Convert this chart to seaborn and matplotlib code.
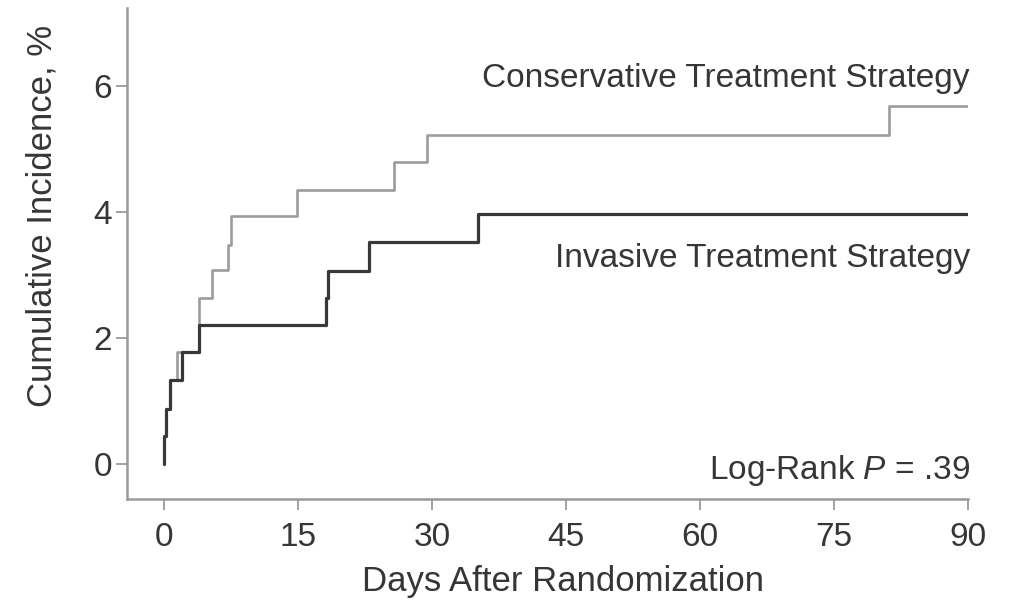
import seaborn as sns
import matplotlib.pyplot as plt
import pandas as pd

# step data
days_conservative = [0, 0, 0.19, 0.67, 1.42, 3.92, 5.4, 7.2, 7.47, 14.9, 25.7, 29.4, 81.2, 90]
incidence_conservative = [0, 0.44, 0.87, 1.33, 1.77, 2.62, 3.07, 3.47, 3.93, 4.34, 4.79, 5.21, 5.67, 5.67]

days_invasive = [0, 0, 0.19, 0.67, 2.05, 3.92, 18.1, 18.4, 22.9, 35.1, 90]
incidence_invasive = [0, 0.44, 0.87, 1.33, 1.77, 2.2, 2.62, 3.06, 3.52, 3.96, 3.96]

x_ticks = [0, 15, 30, 45, 60, 75, 90]
y_ticks = [0, 2, 4, 6]

TEXT = "#363636"
SPINE = "#9a9a9a"

sns.set_style("ticks")
plt.rcParams["font.family"] = ["Liberation Sans", "DejaVu Sans"]
plt.rcParams["mathtext.fontset"] = "custom"
plt.rcParams["mathtext.rm"] = "Liberation Sans"
plt.rcParams["mathtext.it"] = "Liberation Sans:italic"

df_con = pd.DataFrame({"day": days_conservative, "pct": incidence_conservative})
df_inv = pd.DataFrame({"day": days_invasive, "pct": incidence_invasive})

fig = plt.figure(figsize=(10.13, 6.07), dpi=100)
ax = fig.add_axes([0.1254, 0.1779, 0.8302, 0.8089])

sns.lineplot(data=df_con, x="day", y="pct", ax=ax, estimator=None, sort=False,
             drawstyle="steps-post", color="#9c9c9c", linewidth=1.9)
sns.lineplot(data=df_inv, x="day", y="pct", ax=ax, estimator=None, sort=False,
             drawstyle="steps-post", color="#383838", linewidth=2.3)

ax.set_xlim(-4.14, 90)
ax.set_ylim(-0.563, 7.23)
ax.set_xticks(x_ticks)
ax.set_yticks(y_ticks)

sns.despine(ax=ax)
for side in ["left", "bottom"]:
    ax.spines[side].set_color(SPINE)
    ax.spines[side].set_linewidth(1.8)
ax.tick_params(colors=SPINE, length=8, width=1.3, labelcolor=TEXT, labelsize=24)
ax.tick_params(axis="x", pad=8.5)
ax.tick_params(axis="y", pad=3)

ax.set_xlabel("Days After Randomization", fontsize=25, color=TEXT)
ax.set_ylabel("Cumulative Incidence, %", fontsize=25, color=TEXT)
ax.xaxis.set_label_coords(0.518, -0.134)
ax.yaxis.set_label_coords(-0.082, 0.576)

ax.text(90.2, 5.98, "Conservative Treatment Strategy", ha="right", va="baseline",
        fontsize=24, color=TEXT)
ax.text(90.2, 3.12, "Invasive Treatment Strategy", ha="right", va="baseline",
        fontsize=24, color=TEXT)
ax.text(90.2, -0.25, r"Log-Rank $\mathit{P}$ = .39", ha="right", va="baseline",
        fontsize=24, color=TEXT)

plt.savefig("out.png", dpi=100)
plt.close()
